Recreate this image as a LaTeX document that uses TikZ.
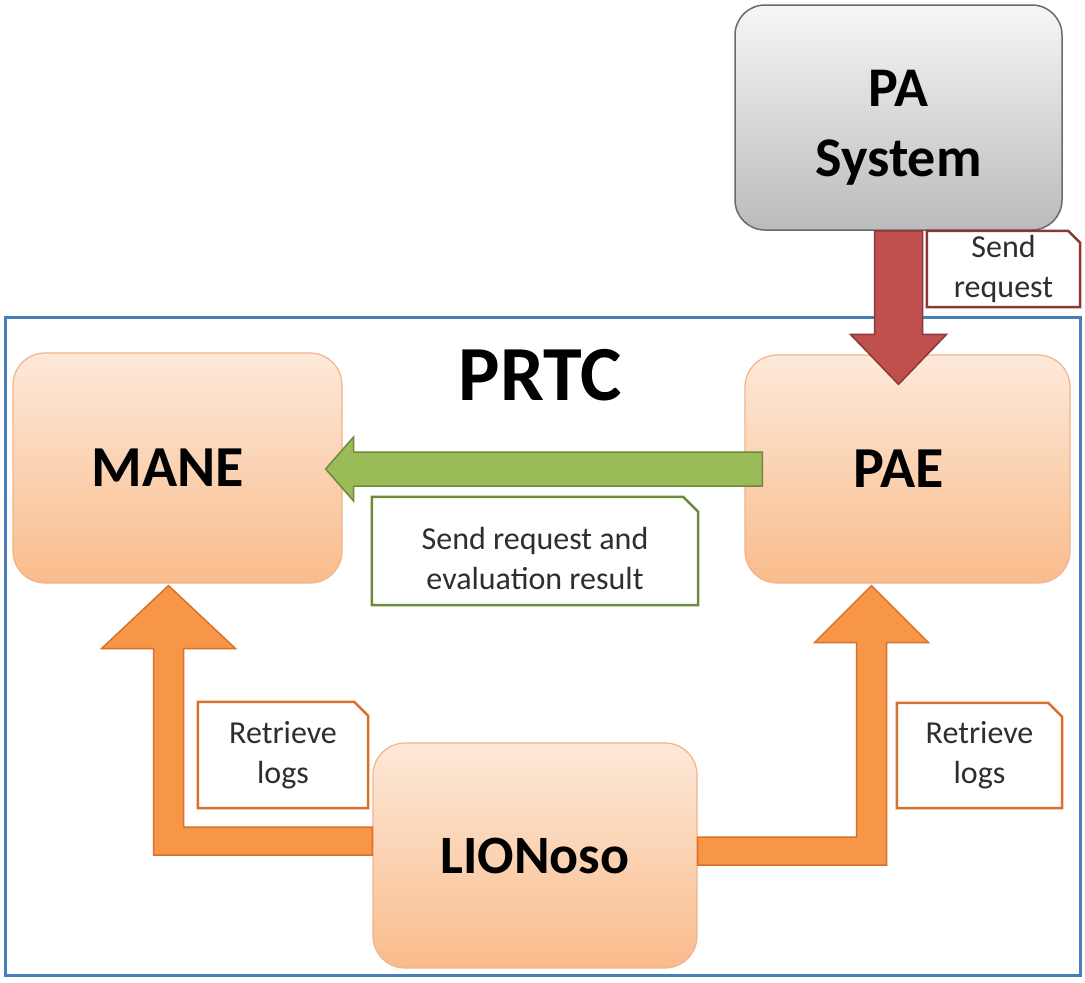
\documentclass[tikz,border=0pt]{standalone}
\usepackage{fontspec}
\setmainfont{Carlito}
\usetikzlibrary{calc}
\definecolor{frameblue}{HTML}{4A7EBB}
\definecolor{peachtop}{HTML}{FDE9D9}
\definecolor{peachbot}{HTML}{F9BC8C}
\definecolor{peachline}{HTML}{F2B38A}
\definecolor{graytop}{HTML}{F6F6F6}
\definecolor{graybot}{HTML}{BBBBBB}
\definecolor{grayline}{HTML}{6A6A6A}
\definecolor{ofill}{HTML}{F79646}
\definecolor{oline}{HTML}{D9712A}
\definecolor{gfill}{HTML}{9BBB59}
\definecolor{gline}{HTML}{6E8A3A}
\definecolor{rfill}{HTML}{C0504D}
\definecolor{rline}{HTML}{8C3836}
\definecolor{lbltext}{HTML}{2E2E2E}
\tikzset{
  peachbox/.style={rectangle, rounded corners=32pt, top color=peachtop, bottom color=peachbot,
    draw=peachline, line width=1.2pt, align=center, font=\fontsize{58}{62}\selectfont\bfseries},
  graybox/.style={rectangle, rounded corners=30pt, top color=graytop, bottom color=graybot,
    draw=grayline, line width=1.5pt, align=center, font=\fontsize{56}{70}\selectfont\bfseries},
  lbl/.style={rectangle, fill=white, align=center, inner sep=0pt, text=lbltext,
    font=\fontsize{32}{40}\selectfont},
  blockarrow/.style={line width=1.5pt, line join=miter},
}
\newcommand{\snipborder}[3]{%
  \draw[#2, line width=2.5pt] (#1.south west) -- (#1.north west) -- ($(#1.north east)+(-#3,0)$)
    -- ($(#1.north east)+(0,#3)$) -- (#1.south east) -- cycle;}
\begin{document}
\begin{tikzpicture}[x=1pt,y=-1pt]
\useasboundingbox[fill=white] (0,0) rectangle (1085,983);

% outer frame
\node[draw=frameblue, line width=3pt, minimum width=1075pt, minimum height=658pt, inner sep=0pt]
  (prtc) at (542.5,646) {};
\node[font=\fontsize{78}{80}\selectfont\bfseries] (title) at (540,375) {PRTC};

% boxes
\node[graybox, minimum width=327pt, minimum height=225pt] (pa) at (898.5,117.5) {\rule{0pt}{56pt}PA\\System};
\node[peachbox, minimum width=329pt, minimum height=230pt] (mane) at (177.5,468) {MANE\kern20pt};
\node[peachbox, minimum width=325pt, minimum height=228pt] (pae) at (907.5,469) {PAE\kern18pt};
\node[peachbox, minimum width=324pt, minimum height=225pt, font=\fontsize{54}{58}\selectfont\bfseries]
  (lion) at (535,855.5) {LIONoso};

% red arrow PA -> PAE
\coordinate (rtip) at ($(pae.north -| pa.south)+(0,30)$);
\draw[blockarrow, fill=rfill, draw=rline]
  ($(pa.south)+(-24,0)$) -- ($(rtip)+(-24,-50)$) -- ($(rtip)+(-48,-50)$) -- (rtip)
  -- ($(rtip)+(48,-50)$) -- ($(rtip)+(24,-50)$) -- ($(pa.south)+(24,0)$) -- cycle;

% green arrow PAE -> MANE
\coordinate (gtip) at ($(mane.east)+(-17,1)$);
\coordinate (gstart) at ($(pae.west)+(18,0)$);
\draw[blockarrow, fill=gfill, draw=gline]
  ($(gstart)+(0,-17)$) -- ($(gtip)+(28,-17)$) -- ($(gtip)+(28,-32)$) -- (gtip)
  -- ($(gtip)+(28,32)$) -- ($(gtip)+(28,17)$) -- ($(gstart)+(0,17)$) -- cycle;

% orange arrow LIONoso -> MANE
\coordinate (lt) at ($(mane.south)+(-9,2)$);
\coordinate (ls) at ($(lion.west)+(0,-14.5)$);
\draw[blockarrow, fill=ofill, draw=oline]
  ($(ls)+(0,-14)$) -- ($(lt|-ls)+(15,-14)$) -- ($(lt)+(15,63)$) -- ($(lt)+(67,63)$) -- (lt)
  -- ($(lt)+(-67,63)$) -- ($(lt)+(-15,63)$) -- ($(lt|-ls)+(-15,14)$) -- ($(ls)+(0,14)$) -- cycle;

% orange arrow LIONoso -> PAE
\coordinate (rt) at ($(pae.south)+(-36,2)$);
\coordinate (rs) at ($(lion.east)+(0,-4.5)$);
\draw[blockarrow, fill=ofill, draw=oline]
  ($(rs)+(0,-14)$) -- ($(rt|-rs)+(-15,-14)$) -- ($(rt)+(-15,57)$) -- ($(rt)+(-57,57)$) -- (rt)
  -- ($(rt)+(57,57)$) -- ($(rt)+(15,57)$) -- ($(rt|-rs)+(15,14)$) -- ($(rs)+(0,14)$) -- cycle;

% labels
\node[lbl, minimum width=153pt, minimum height=76pt] (lsend) at (1003.5,269) {Send\\request};
\snipborder{lsend}{rline}{12}
\node[lbl, minimum width=326pt, minimum height=108pt] (leval) at (535,551) {\rule{0pt}{38pt}Send request and\\evaluation result};
\snipborder{leval}{gline}{15}
\node[lbl, minimum width=170pt, minimum height=106pt] (lret1) at (283,755) {Retrieve\\logs};
\snipborder{lret1}{oline}{14}
\node[lbl, minimum width=165pt, minimum height=105pt] (lret2) at (979.5,755.5) {Retrieve\\logs};
\snipborder{lret2}{oline}{14}
\end{tikzpicture}
\end{document}
